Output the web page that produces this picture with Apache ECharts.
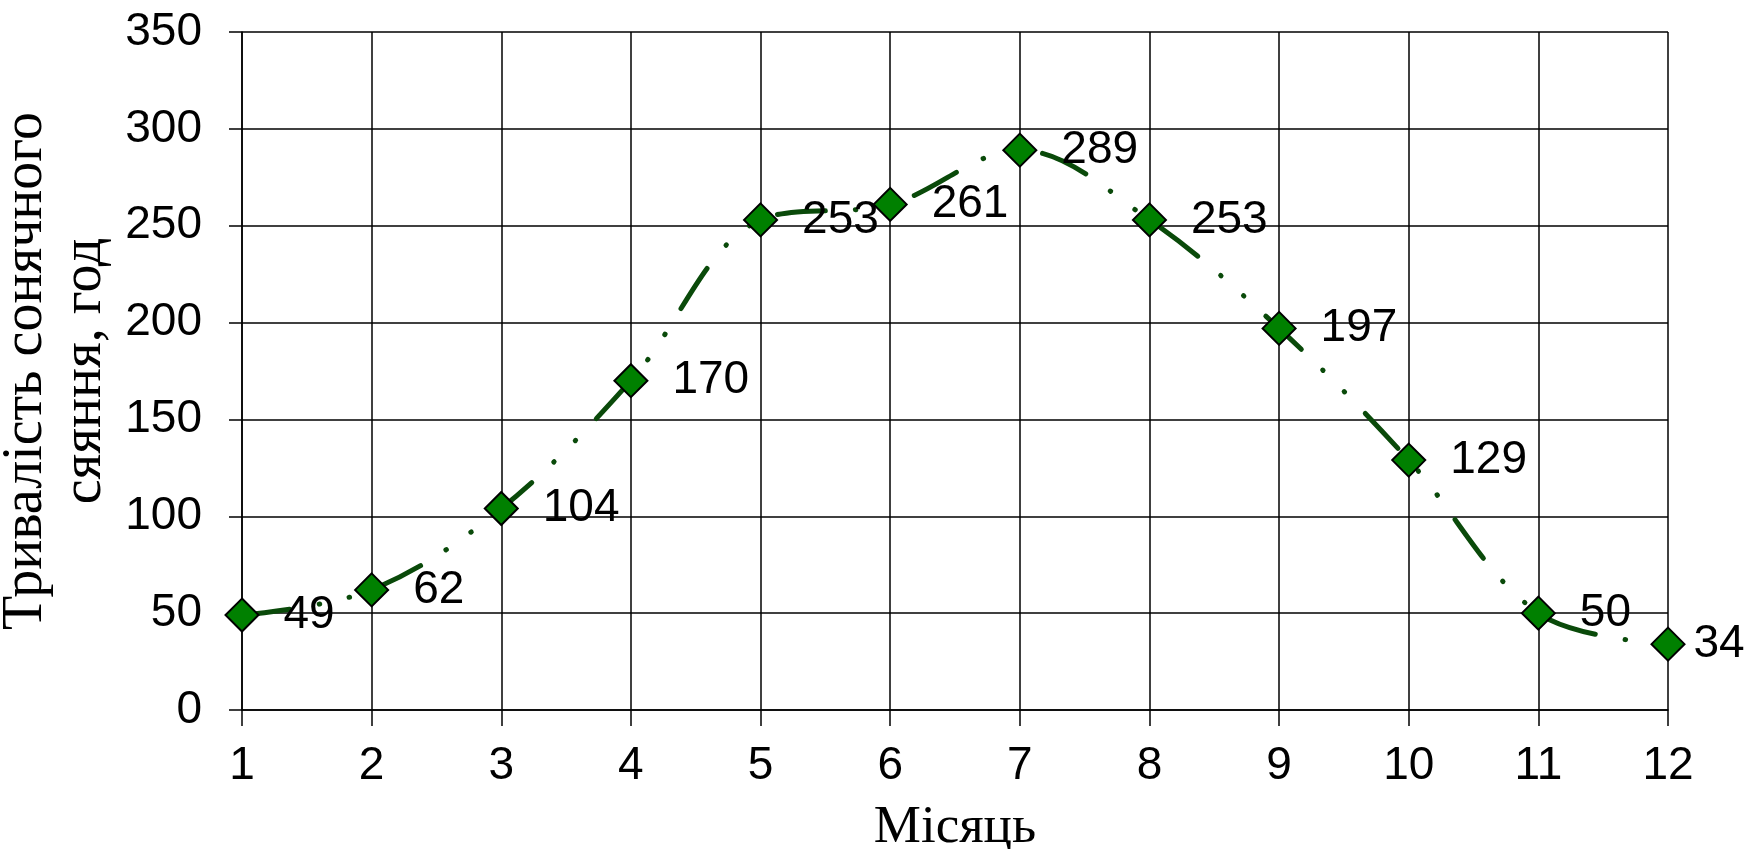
<!DOCTYPE html>
<html>
<head>
<meta charset="utf-8">
<script src="https://cdn.jsdelivr.net/npm/echarts@6/dist/echarts.min.js"></script>
<style>
html,body{margin:0;padding:0;background:#fff;}
#chart{width:1746px;height:849px;}
</style>
</head>
<body>
<div id="chart"></div>
<script>
const months = ['1','2','3','4','5','6','7','8','9','10','11','12'];
const sunshineHours = [49, 62, 104, 170, 253, 261, 289, 253, 197, 129, 50, 34];
const yTicks = { min: 0, max: 350, interval: 50 };
const xAxisTitle = 'Місяць';
const yAxisTitle = 'Тривалість сонячного\nсяяння, год';

const chart = echarts.init(document.getElementById('chart'), null, { renderer: 'canvas' });

const seriesData = sunshineHours.map((v, i) =>
  i === sunshineHours.length - 1 ? { value: v, label: { distance: 8 } } : v
);

chart.setOption({
  backgroundColor: '#ffffff',
  animation: false,
  grid: { left: 242, right: 78, top: 32, bottom: 139, containLabel: false, outerBoundsMode: 'none' },
  xAxis: {
    type: 'category',
    data: months,
    boundaryGap: false,
    name: xAxisTitle,
    nameLocation: 'middle',
    nameGap: 92,
    nameTextStyle: { fontFamily: 'Liberation Serif', fontSize: 53, color: '#000' },
    axisLine: { show: true, lineStyle: { color: '#000', width: 1.5 } },
    axisTick: { show: true, alignWithLabel: true, inside: false, length: 16, lineStyle: { color: '#000', width: 1.5 } },
    axisLabel: { fontFamily: 'Liberation Sans', fontSize: 46, color: '#000', margin: 33 },
    splitLine: { show: true, lineStyle: { color: '#000', width: 1.5 } }
  },
  yAxis: {
    type: 'value',
    min: yTicks.min,
    max: yTicks.max,
    interval: yTicks.interval,
    name: yAxisTitle,
    nameLocation: 'middle',
    nameGap: 98,
    nameRotate: 90,
    nameTextStyle: {
      fontFamily: 'Liberation Serif', fontSize: 56, color: '#000',
      lineHeight: 59, align: 'center'
    },
    axisLine: { show: true, lineStyle: { color: '#000', width: 1.5 } },
    axisTick: { show: true, inside: false, length: 13, lineStyle: { color: '#000', width: 1.5 } },
    axisLabel: { fontFamily: 'Liberation Sans', fontSize: 46, color: '#000', margin: 40 },
    splitLine: { show: true, lineStyle: { color: '#000', width: 1.5 } }
  },
  series: [{
    type: 'line',
    data: seriesData,
    smooth: 0.35,
    symbol: 'diamond',
    symbolSize: 33,
    itemStyle: { color: '#008000', borderColor: '#000', borderWidth: 2 },
    lineStyle: { color: '#0a4a0a', width: 5, type: [48, 30, 0.5, 30, 0.5, 30], cap: 'round' },
    label: {
      show: true,
      position: 'right',
      distance: 24,
      fontFamily: 'Liberation Sans',
      fontSize: 46,
      color: '#000'
    },
    z: 3
  }]
});
</script>
</body>
</html>
